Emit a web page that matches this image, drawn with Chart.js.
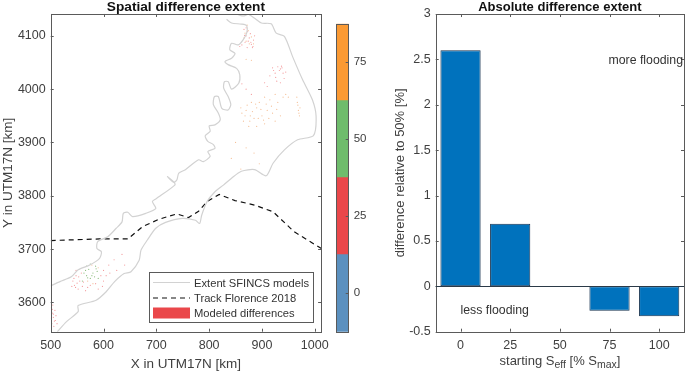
<!DOCTYPE html>
<html>
<head>
<meta charset="utf-8">
<script src="https://cdn.jsdelivr.net/npm/chart.js@4/dist/chart.umd.min.js"></script>
<style>
    html, body { margin: 0; padding: 0; background: #fff; }
    body { width: 685px; height: 373px; position: relative; overflow: hidden; }
    canvas { position: absolute; top: 0; }
    #bar-xlabel {
        position: absolute; left: 436px; top: 353px; width: 248px; text-align: center;
        font: 13px "Liberation Sans", Arial, sans-serif; color: #404040; white-space: nowrap; line-height: 15px;
    }
    #bar-xlabel sub { font-size: 10.5px; line-height: 0; vertical-align: -3px; }
</style>
</head>
<body>
<canvas id="map-chart" width="335" height="373" style="left:0"></canvas>
<canvas id="colorbar-chart" width="50" height="373" style="left:330px"></canvas>
<canvas id="bar-chart" width="300" height="373" style="left:385px"></canvas>
<div id="bar-xlabel">starting S<sub>eff</sub> [% S<sub>max</sub>]</div>
<script>
// Left panel: map, all in km (UTM17N)
const mapXTicks = [500, 600, 700, 800, 900, 1000];
const mapYTicks = [3600, 3700, 3800, 3900, 4000, 4100];

const outlineUpperX = [833, 842.5, 861, 871, 871, 864, 855, 842.5, 839, 849, 842.5, 830, 836, 852, 858, 856, 842.5, 836, 829, 827.5, 836, 841, 836, 824, 817.5, 810, 808, 817.5, 821, 811, 800, 802, 792.5, 797.5, 808, 811, 797.5, 802, 789, 780, 755, 742.5, 739, 733, 721, 733, 735, 699, 692.5, 699, 680, 655, 646, 637.5, 635, 624, 608, 589, 587.5, 596, 592.5, 574, 552, 539, 517.5, 500];
const outlineUpperY = [4131, 4124, 4122, 4119, 4105, 4092, 4083, 4086, 4074, 4067, 4058, 4052, 4046, 4039, 4027, 4011, 4000, 4014, 4014, 4002, 3986, 3971, 3961, 3964, 3986, 3986, 3971, 3955, 3942.5, 3933, 3931, 3921, 3912.5, 3902, 3896, 3889, 3883, 3874, 3864, 3867.5, 3849, 3842.5, 3830, 3825, 3836, 3826, 3820, 3794, 3789, 3776, 3767, 3761, 3769, 3767, 3751, 3739, 3723, 3714, 3701, 3695, 3682.5, 3670, 3661, 3648, 3639, 3631];
const outlineLowerX = [512.5, 530, 552, 552, 586, 605, 621, 639, 652, 667.5, 671, 683, 699, 717.5, 749, 774, 782, 786, 796, 811, 827, 842.5, 861, 886, 908, 921, 942.5, 967.5, 997.5, 1002.5, 995.5, 977, 958, 942.5, 927, 917.5, 899, 886, 874];
const outlineLowerY = [3545, 3564, 3582.5, 3594, 3604, 3620, 3639, 3654, 3657.5, 3679, 3698, 3717, 3739, 3750, 3757.5, 3754, 3748, 3764, 3789, 3807.5, 3820, 3833, 3846, 3849, 3837.5, 3861, 3886, 3905, 3913, 3949, 3980, 4017.5, 4061, 4099, 4105, 4122.5, 4124, 4133, 4141];
const outlineTopX = [852, 860, 868, 874];
const outlineTopY = [4141, 4138, 4138, 4141];

const trackX = [500, 592.5, 646, 674, 705, 739, 761, 780, 796, 819, 849, 886, 921, 961, 1012.5];
const trackY = [3716, 3719, 3719, 3742, 3756, 3766, 3759, 3771, 3789, 3802.5, 3791, 3782.5, 3770, 3732.5, 3701];

const redX = [866, 870, 874, 880, 884, 878, 868, 862, 872, 886, 876, 882, 858, 870, 873, 879, 867, 883, 920, 925, 930, 935, 940, 942, 915, 928, 935, 905, 938, 945, 910, 933, 937, 926, 922, 862, 870, 880, 542, 548, 545, 555, 552, 560, 570, 585, 590, 600, 610, 605, 620, 625, 635, 640, 600, 548, 540, 558, 544, 550, 547, 553, 562, 566, 575, 595, 598, 612, 501, 503, 505, 507, 502, 510, 512, 504, 508, 501, 506, 503, 505, 509];
const redY = [4112, 4100, 4090, 4084, 4092, 4104, 4088, 4083, 4078, 4100, 4096, 4078, 4080, 4115, 4108, 4088, 4101, 4080, 4040, 4030, 4042, 4038, 4030, 4020, 4025, 4015, 4012, 4012, 4040, 4032, 4005, 4035, 4043, 4022, 4035, 4010, 4000, 3990, 3640, 3650, 3632, 3640, 3625, 3630, 3628, 3635, 3625, 3660, 3670, 3650, 3680, 3660, 3690, 3670, 3640, 3660, 3630, 3655, 3645, 3636, 3628, 3648, 3638, 3622, 3632, 3650, 3630, 3655, 3590, 3580, 3572, 3565, 3560, 3575, 3560, 3595, 3585, 3570, 3555, 3587, 3578, 3566];
const orangeX = [868, 874, 880, 876, 866, 884, 872, 870, 870, 878, 885, 890, 895, 905, 915, 925, 930, 940, 945, 880, 900, 910, 920, 935, 950, 968, 969, 970, 972, 966, 860, 865, 875, 890, 905, 850, 870, 885, 895, 860, 842, 870, 880, 872, 882, 888, 898, 908, 918, 928, 868, 862, 877, 893, 903, 913, 925, 967, 971, 578, 590, 570, 580];
const orangeY = [4105, 4110, 4098, 4085, 4096, 4085, 4120, 4090, 3960, 3950, 3945, 3965, 3975, 3985, 3980, 3990, 3975, 3985, 3990, 3975, 3950, 3960, 3955, 3950, 3985, 3970, 3960, 3955, 3965, 3985, 3965, 3940, 3930, 3930, 3935, 3900, 3890, 3880, 3860, 3850, 3870, 4056, 4054, 3970, 3958, 3972, 3962, 3972, 3968, 3962, 3950, 3955, 3940, 3945, 3942, 3945, 3940, 3975, 3950, 3670, 3665, 3640, 3635];
const greenX = [566, 568, 575, 583, 588, 585, 575, 568, 580, 572, 590, 560, 563, 570, 578, 586];
const greenY = [3660, 3650, 3645, 3648, 3658, 3668, 3672, 3668, 3655, 3662, 3645, 3640, 3655, 3646, 3650, 3663];

// Colorbar
const colorbarTicks = [0, 25, 50, 75];
const colorbarEdges = [-12.5, 12.5, 37.5, 62.5, 87.5];
const colorbarColors = ['#5b90bf', '#ea474a', '#6fbc6c', '#fb9a33'];

// Right panel: bars
const startingLabels = ['0', '25', '50', '75', '100'];
const differenceValues = [2.6, 0.69, 0, -0.27, -0.33];
const barYTicks = [-0.5, 0, 0.5, 1, 1.5, 2, 2.5, 3];

const FONT = '"Liberation Sans", Arial, sans-serif';
const TEXT = '#404040';
const FRAME = '#5a5a5a';
const OUTLINE = '#d2d2d2';

Chart.defaults.font.family = FONT;
Chart.defaults.color = TEXT;
Chart.defaults.animation = false;
Chart.defaults.responsive = false;

const toPoints = (xs, ys) => xs.map((x, i) => ({ x, y: ys[i] }));
const plainTick = value => String(value);

// MATLAB style box: frame on all sides with ticks pointing inwards
const boxTicks = {
    id: 'boxTicks',
    afterDatasetsDraw(chart) {
        const { ctx, chartArea: a, scales } = chart;
        ctx.save();
        ctx.strokeStyle = FRAME;
        ctx.lineWidth = 1;
        ctx.strokeRect(Math.round(a.left) + 0.5, Math.round(a.top) + 0.5, Math.round(a.width), Math.round(a.height));
        ctx.beginPath();
        const len = 3;
        if (scales.x.options.display) {
            scales.x.ticks.forEach((t, i) => {
                const px = Math.round(scales.x.getPixelForTick(i)) + 0.5;
                ctx.moveTo(px, a.top); ctx.lineTo(px, a.top + len);
                ctx.moveTo(px, a.bottom); ctx.lineTo(px, a.bottom - len);
            });
        }
        scales.y.ticks.forEach((t, i) => {
            const py = Math.round(scales.y.getPixelForTick(i)) + 0.5;
            ctx.moveTo(a.right, py); ctx.lineTo(a.right - len, py);
            if (scales.x.options.display) {
                ctx.moveTo(a.left, py); ctx.lineTo(a.left + len, py);
            }
        });
        ctx.stroke();
        ctx.restore();
    }
};

// Legend box inside the map
const mapLegend = {
    id: 'mapLegend',
    afterDraw(chart) {
        const { ctx } = chart;
        const track = chart.data.datasets[3];
        ctx.save();
        ctx.fillStyle = '#fff';
        ctx.fillRect(149.5, 272.5, 164, 50);
        ctx.strokeStyle = FRAME;
        ctx.lineWidth = 1;
        ctx.strokeRect(149.5, 272.5, 164, 50);
        ctx.font = '11.2px ' + FONT;
        ctx.fillStyle = '#333';
        ctx.textBaseline = 'middle';
        ctx.fillText('Extent SFINCS models', 194, 283.5);
        ctx.fillText('Track Florence 2018', 194, 298.5);
        ctx.fillText('Modeled differences', 194, 314);
        ctx.strokeStyle = OUTLINE;
        ctx.lineWidth = 1.2;
        ctx.beginPath(); ctx.moveTo(153, 282.5); ctx.lineTo(190, 282.5); ctx.stroke();
        ctx.strokeStyle = track.borderColor;
        ctx.lineWidth = track.borderWidth;
        ctx.setLineDash(track.borderDash);
        ctx.beginPath(); ctx.moveTo(153, 298); ctx.lineTo(190, 298); ctx.stroke();
        ctx.setLineDash([]);
        ctx.fillStyle = colorbarColors[1];
        ctx.fillRect(153, 307.5, 37, 11);
        ctx.restore();
    }
};

// Zero line and the two notes of the bar panel
const barNotes = {
    id: 'barNotes',
    afterDatasetsDraw(chart) {
        const { ctx, chartArea: a, scales } = chart;
        const zero = Math.round(scales.y.getPixelForValue(0)) + 0.5;
        ctx.save();
        ctx.strokeStyle = '#2b3a48';
        ctx.lineWidth = 1;
        ctx.beginPath(); ctx.moveTo(a.left, zero); ctx.lineTo(a.right, zero); ctx.stroke();
        ctx.font = '12.3px ' + FONT;
        ctx.fillStyle = '#333';
        ctx.textBaseline = 'middle';
        ctx.textAlign = 'right';
        ctx.fillText('more flooding', a.right - 1, scales.y.getPixelForValue(2.485));
        ctx.textAlign = 'left';
        ctx.fillText('less flooding', scales.x.getPixelForTick(0), scales.y.getPixelForValue(-0.264));
        ctx.restore();
    }
};

const outline = (xs, ys) => ({
    data: toPoints(xs, ys),
    showLine: true,
    borderColor: OUTLINE,
    borderWidth: 1.2,
    pointRadius: 0,
    tension: 0.25
});

const speckle = (xs, ys, color) => ({
    data: toPoints(xs, ys),
    pointRadius: 0.6,
    pointBorderWidth: 0,
    pointBackgroundColor: color,
    showLine: false
});

new Chart(document.getElementById('map-chart'), {
    type: 'scatter',
    data: {
        datasets: [
            outline(outlineUpperX, outlineUpperY),
            outline(outlineLowerX, outlineLowerY),
            outline(outlineTopX, outlineTopY),
            { data: toPoints(trackX, trackY), showLine: true, borderColor: '#111', borderWidth: 1.2, borderDash: [5, 4], pointRadius: 0 },
            speckle(redX, redY, 'rgba(234,71,74,0.55)'),
            speckle(orangeX, orangeY, 'rgba(235,130,50,0.5)'),
            speckle(greenX, greenY, 'rgba(90,160,70,0.7)')
        ]
    },
    options: {
        layout: { padding: { right: 11 } },
        plugins: {
            legend: { display: false },
            tooltip: { enabled: false },
            title: { display: true, text: 'Spatial difference extent', fullSize: false, color: '#111', font: { size: 13.7, weight: 'bold', lineHeight: 1.02 }, padding: 0 }
        },
        scales: {
            x: {
                type: 'linear', min: 500, max: 1012,
                afterBuildTicks: s => { s.ticks = mapXTicks.map(value => ({ value })); },
                afterFit: s => { s.height = 41.3; },
                grid: { display: false, drawTicks: false }, border: { display: false },
                ticks: { font: { size: 12.5 }, padding: 6, autoSkip: false, maxRotation: 0, callback: plainTick },
                title: { display: true, text: 'X in UTM17N [km]', font: { size: 13.5 }, padding: { top: 0, bottom: 1 } }
            },
            y: {
                type: 'linear', min: 3545, max: 4141,
                afterBuildTicks: s => { s.ticks = mapYTicks.map(value => ({ value })); },
                afterFit: s => { s.width = 50.7; },
                grid: { display: false, drawTicks: false }, border: { display: false },
                ticks: { font: { size: 12.5 }, padding: 5, autoSkip: false, callback: plainTick },
                title: { display: true, text: 'Y in UTM17N [km]', font: { size: 13.5 }, padding: { top: 0, bottom: 0 } }
            }
        }
    },
    plugins: [boxTicks, mapLegend]
});

new Chart(document.getElementById('colorbar-chart'), {
    type: 'bar',
    data: {
        labels: [''],
        datasets: colorbarColors.map((color, i) => ({
            data: [[colorbarEdges[i], colorbarEdges[i + 1]]],
            backgroundColor: color,
            barPercentage: 1,
            categoryPercentage: 1,
            grouped: false
        }))
    },
    options: {
        layout: { padding: { left: 6.3, top: 23.7, bottom: 41.3 } },
        plugins: { legend: { display: false }, tooltip: { enabled: false } },
        scales: {
            x: { display: false },
            y: {
                position: 'right', min: -12.5, max: 87.5,
                afterBuildTicks: s => { s.ticks = colorbarTicks.map(value => ({ value })); },
                afterFit: s => { s.width = 31.3; },
                grid: { display: false, drawTicks: false }, border: { display: false },
                ticks: { font: { size: 11.5 }, padding: 5, autoSkip: false, callback: plainTick }
            }
        }
    },
    plugins: [boxTicks]
});

new Chart(document.getElementById('bar-chart'), {
    type: 'bar',
    data: {
        labels: startingLabels,
        datasets: [{
            data: differenceValues,
            backgroundColor: '#0072bd',
            borderColor: '#16324f',
            borderWidth: 1,
            borderSkipped: false,
            barPercentage: 0.81,
            categoryPercentage: 1
        }]
    },
    options: {
        layout: { padding: { right: 1 } },
        plugins: {
            legend: { display: false },
            tooltip: { enabled: false },
            title: { display: true, text: 'Absolute difference extent', fullSize: false, color: '#111', font: { size: 13, weight: 'bold', lineHeight: 1.08 }, padding: 0 }
        },
        scales: {
            x: {
                afterFit: s => { s.height = 41.3; },
                grid: { display: false, drawTicks: false }, border: { display: false },
                ticks: { font: { size: 12.5 }, padding: 6, maxRotation: 0 }
            },
            y: {
                min: -0.5, max: 3,
                afterBuildTicks: s => { s.ticks = barYTicks.map(value => ({ value })); },
                afterFit: s => { s.width = 50.7; },
                grid: { display: false, drawTicks: false }, border: { display: false },
                ticks: { font: { size: 12.5 }, padding: 5, autoSkip: false, callback: plainTick },
                title: { display: true, text: 'difference relative to 50% [%]', font: { size: 13 }, padding: { top: 8, bottom: 0 } }
            }
        }
    },
    plugins: [boxTicks, barNotes]
});
</script>
</body>
</html>
